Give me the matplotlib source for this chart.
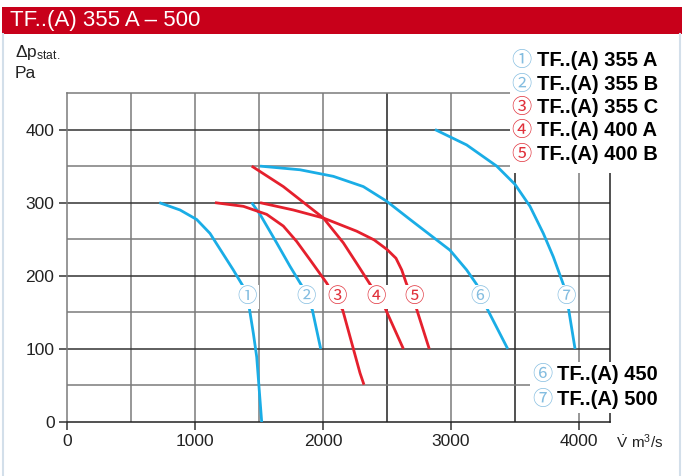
import matplotlib
matplotlib.use("Agg")
import matplotlib.pyplot as plt
from matplotlib.patches import Rectangle
from matplotlib.lines import Line2D

plt.rcParams["font.family"] = ["Liberation Sans", "DejaVu Sans"]
plt.rcParams["mathtext.fontset"] = "custom"
plt.rcParams["mathtext.rm"] = "Liberation Sans"

# fan curves: volume flow (m3/s) and static pressure (Pa)
c1_x = [721, 883, 1013, 1117, 1208, 1299, 1378, 1424, 1456, 1482, 1521]
c1_y = [300, 290, 277, 258, 233, 208, 185, 156, 121, 89, 0]
c2_x = [1443, 1508, 1638, 1742, 1846, 1917, 1982]
c2_y = [300, 284, 245, 213, 183, 153, 100]
c3_x = [1156, 1378, 1560, 1690, 1794, 1898, 2029, 2154, 2289, 2320]
c3_y = [300, 295, 284, 268, 247, 222, 190, 153, 67, 51]
c4_x = [1443, 1690, 2003, 2159, 2263, 2380, 2484, 2628]
c4_y = [350, 322, 279, 245, 217, 185, 156, 100]
c5_x = [1508, 1768, 2003, 2263, 2400, 2500, 2570, 2615, 2650, 2732, 2830]
c5_y = [300, 290, 279, 261, 249, 236, 224, 208, 190, 154, 100]
c6_x = [1508, 1820, 2081, 2315, 2497, 2680, 2836, 2992, 3122, 3201, 3279, 3443]
c6_y = [350, 345, 336, 322, 302, 277, 256, 235, 208, 188, 156, 100]
c7_x = [2875, 3122, 3357, 3500, 3617, 3721, 3799, 3878, 3917, 3969]
c7_y = [400, 379, 350, 325, 295, 258, 226, 188, 156, 100]

curve_marks = ["①", "②", "③", "④", "⑤", "⑥", "⑦"]
mark_x = [1406, 1867, 2109, 2414, 2711, 3227, 3898]
mark_y = 171

top_legend = ["TF..(A) 355 A", "TF..(A) 355 B", "TF..(A) 355 C",
              "TF..(A) 400 A", "TF..(A) 400 B"]
bottom_legend = ["TF..(A) 450", "TF..(A) 500"]

blue = "#1aade6"
red = "#e5202d"
blue_mark = "#84bde0"
red_mark = "#e0303a"
curves = [(c1_x, c1_y, blue), (c2_x, c2_y, blue), (c3_x, c3_y, red),
          (c4_x, c4_y, red), (c5_x, c5_y, red), (c6_x, c6_y, blue),
          (c7_x, c7_y, blue)]
mark_colors = [blue_mark, blue_mark, red_mark, red_mark, red_mark,
               blue_mark, blue_mark]
circ_font = ["Noto Sans CJK JP", "DejaVu Sans"]

W, H = 682, 476
fig = plt.figure(figsize=(W / 100, H / 100), dpi=100)
ax = fig.add_axes([67 / W, 1 - 422 / H, 543 / W, 329 / H])
ax.set_xlim(0, 4242)
ax.set_ylim(0, 450)

# grid
for gx in range(500, 4001, 500):
    ax.axvline(gx, color="#222222" if gx in (2500, 3500) else "#7a7a7a",
               lw=1.1, zorder=1)
for gy in range(50, 401, 50):
    ax.axhline(gy, color="#333333" if gy % 100 == 0 else "#7a7a7a",
               lw=1.1, zorder=1)
for side in ["left", "top"]:
    ax.spines[side].set_color("#7a7a7a")
for side in ["right", "bottom"]:
    ax.spines[side].set_color("#222222")
for s in ax.spines.values():
    s.set_linewidth(1.1)

ax.set_xticks(range(0, 4001, 1000))
ax.set_yticks(range(0, 401, 100))
ax.tick_params(direction="out", length=6, width=1.1, color="#333333",
               labelsize=12.5, labelcolor="#222222", pad=3)

for xs, ys, col in curves:
    ax.plot(xs, ys, color=col, lw=2.0, zorder=3, solid_capstyle="butt",
            solid_joinstyle="round")

for m, mx, mc in zip(curve_marks, mark_x, mark_colors):
    ax.text(mx, mark_y, m, color=mc, fontsize=14, family=circ_font,
            ha="center", va="center", zorder=4,
            bbox=dict(boxstyle="square,pad=0.1", fc="white", ec="none"))

# white boxes behind the legends
ax.add_patch(Rectangle((3461, 341), 900, 200, fc="white", ec="none",
                       zorder=5, clip_on=False))
ax.add_patch(Rectangle((3617, 12), 800, 70, fc="white", ec="none",
                       zorder=5, clip_on=False))

for i, lab in enumerate(top_legend):
    yy = 1 - (60.5 + 23.5 * i) / H
    fig.text(521.5 / W, yy, curve_marks[i], color=mark_colors[i],
             fontsize=14.5, family=circ_font, ha="center", va="center", zorder=6)
    fig.text(537 / W, yy, lab, fontsize=14.5, fontweight="bold",
             ha="left", va="center", zorder=6)
for i, lab in enumerate(bottom_legend):
    yy = 1 - (375 + 24.5 * i) / H
    fig.text(542 / W, yy, curve_marks[5 + i], color=mark_colors[5 + i],
             fontsize=14.5, family=circ_font, ha="center", va="center", zorder=6)
    fig.text(557 / W, yy, lab, fontsize=14.5, fontweight="bold",
             ha="left", va="center", zorder=6)

# axis captions
fig.text(15 / W, 1 - 52 / H, r"$\mathrm{\Delta p_{stat.}}$", fontsize=12.5,
         ha="left", va="center", color="#222222")
fig.text(15 / W, 1 - 73 / H, "Pa", fontsize=12.5, ha="left", va="center",
         color="#222222")
fig.text(616 / W, 1 - 442 / H, r"$\dot{\mathrm{V}}\ \mathrm{m^3/s}$",
         fontsize=11, ha="left", va="center", color="#222222")

# header bar and frame
fig.add_artist(Rectangle((2 / W, 1 - 34 / H), 1 - 2 / W, 27 / H,
                         fc="#c8001a", ec="none"))
fig.text(10 / W, 1 - 20.5 / H, "TF..(A) 355 A \u2013 500", color="white",
         fontsize=16, ha="left", va="center")
fig.add_artist(Line2D([3 / W, 3 / W], [0, 1 - 34 / H], color="#d3dfea", lw=1.5))
fig.add_artist(Line2D([680 / W, 680 / W], [0, 1 - 34 / H], color="#d3dfea", lw=1.5))

fig.savefig("out.png", dpi=100)
